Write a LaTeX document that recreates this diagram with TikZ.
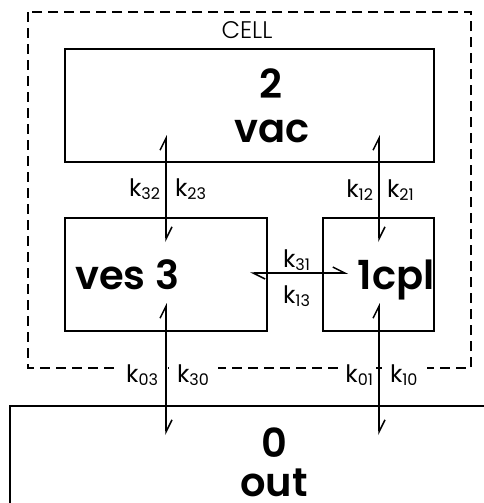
\documentclass[tikz,border=0pt]{standalone}
\usepackage{fontspec}
\setmainfont{Poppins}
\newfontfamily\compfont{Poppins SemiBold}
\newfontfamily\thinfont{Poppins Light}
\usetikzlibrary{arrows.meta}
\tikzset{
  barb/.tip={Straight Barb[left,length=6pt,width=6pt]},
  flux/.style={line width=.75pt,barb-barb},
  rate/.style={fill=white,inner sep=1pt,font=\fontsize{12}{14}\selectfont},
  comp/.style={anchor=base,inner sep=0pt,font=\fontsize{20}{24}\compfont},
}
\newcommand\rk[1]{k\textsubscript{#1}}
\begin{document}
\begin{tikzpicture}[x=.5pt,y=-.5pt,line width=1pt]
\useasboundingbox (0,0) rectangle (483,503);
\draw[line width=.6pt,dash pattern=on 5pt off 3pt] (28,12) rectangle (471,368);
\node[anchor=base,font=\fontsize{12}{14}\thinfont] at (247,38) (cell) {CELL};
\draw (65,49) rectangle (434,162);
\node[comp] at (271,98) (n2) {2};\node[comp] at (272,142) (vac) {vac};
\draw (65,218) rectangle (267,331) (323,218) rectangle (434,331);
\node[comp] at (127,289) (ves) {ves 3};
\node[comp] at (396,289) (cpl) {1cpl};
\draw (495,406) -| (10,515);
\node[comp] at (274,457) (n0) {0};\node[comp] at (274,496) (out) {out};
\node[rate,anchor=base east] at (164,196) (k32) {\rk{32}};
\node[rate,anchor=base west] at (172,196) (k23) {\rk{23}};
\node[rate,anchor=base east] at (377,197) (k12) {\rk{12}};
\node[rate,anchor=base west] at (384,197) (k21) {\rk{21}};
\node[rate,anchor=base] at (297,267) (k31) {\rk{31}};
\node[rate,anchor=base] at (297,303) (k13) {\rk{13}};
\node[rate,anchor=base east,inner xsep=3pt] at (166,382) (k03) {\rk{03}};
\node[rate,anchor=base west,inner xsep=4pt] at (168,382) (k30) {\rk{30}};
\node[rate,anchor=base east] at (377,382) (k01) {\rk{01}};
\node[rate,anchor=base west,inner xsep=4pt] at (381,382) (k10) {\rk{10}};
\coordinate (p23) at (166,135);\coordinate (p32) at (166,242);
\coordinate (p21) at (379,135);\coordinate (p12) at (379,242);
\coordinate (p13) at (250,273);\coordinate (p31) at (348,273);
\coordinate (p03) at (166,303);\coordinate (p30) at (166,435);
\coordinate (p01) at (379,303);\coordinate (p10) at (379,435);
\draw[flux] (p23)--(p32);\draw[flux] (p21)--(p12);
\draw[flux] (p13)--(p31);
\draw[flux] (p03)--(p30);\draw[flux] (p01)--(p10);
\end{tikzpicture}
\end{document}
